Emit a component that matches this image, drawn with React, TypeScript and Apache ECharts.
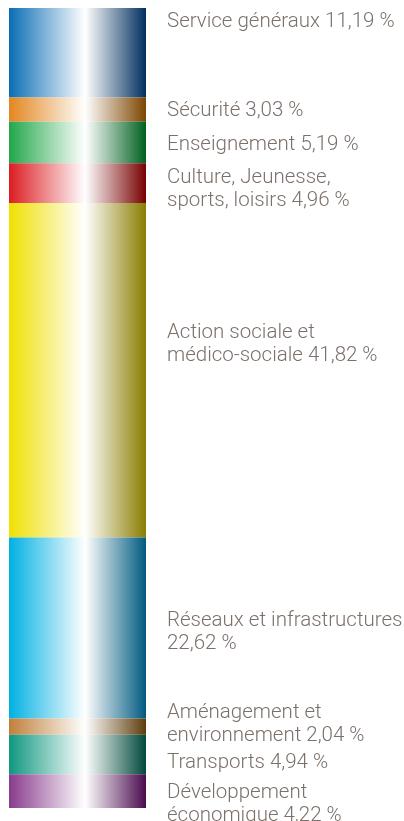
import React, { useEffect, useRef } from "react";
import * as echarts from "echarts";

const categories = [
  "Service généraux",
  "Sécurité",
  "Enseignement",
  "Culture, Jeunesse,\nsports, loisirs",
  "Action sociale et\nmédico-sociale",
  "Réseaux et infrastructures\n",
  "Aménagement et\nenvironnement",
  "Transports",
  "Développement\néconomique",
];
const values = [11.19, 3.03, 5.19, 4.96, 41.82, 22.62, 2.04, 4.94, 4.22];
const leftColors = ["#0a6db4", "#e3861f", "#21a74a", "#dc1c22", "#efe000", "#00b0e2", "#c07f3a", "#0e977e", "#883b8c"];
const rightColors = ["#002f5f", "#7d4500", "#006020", "#780000", "#8a7d00", "#005a80", "#5f3c0c", "#00493b", "#4a0b4e"];
const labelOffsets = [-33, -1, 0, 4, -28, 3, -4, 7, 11];

const fmt = (v: number) => v.toFixed(2).replace(".", ",") + " %";

export default function App() {
  const ref = useRef<HTMLDivElement>(null);
  useEffect(() => {
    if (!ref.current) return;
    const chart = echarts.init(ref.current, null, { renderer: "svg" });
    const total = values.reduce((a, b) => a + b, 0);
    chart.setOption({
      animation: false,
      grid: { left: 9, top: 8, width: 137, height: 800 },
      xAxis: { type: "category", data: ["Budget"], show: false },
      yAxis: { type: "value", inverse: true, min: 0, max: total, show: false },
      series: categories.map((name, i) => ({
        type: "bar",
        name,
        stack: "total",
        barWidth: "100%",
        data: [values[i]],
        itemStyle: {
          color: new echarts.graphic.LinearGradient(0, 0, 1, 0, [
            { offset: 0, color: leftColors[i] },
            { offset: 0.555, color: "#ffffff" },
            { offset: 1, color: rightColors[i] },
          ]),
        },
        label: {
          show: true,
          position: "right",
          distance: 21,
          offset: [0, labelOffsets[i]],
          formatter: () => {
            const n = name.endsWith("\n") ? name : name + " ";
            return n + fmt(values[i]);
          },
          color: "#7b706a",
          fontFamily: "Roboto",
          fontWeight: 300,
          fontSize: 20.5,
          lineHeight: 23,
        },
      })),
    });
    return () => chart.dispose();
  }, []);
  return <div ref={ref} style={{ position: "fixed", left: 0, top: 0, width: 404, height: 821 }} />;
}
